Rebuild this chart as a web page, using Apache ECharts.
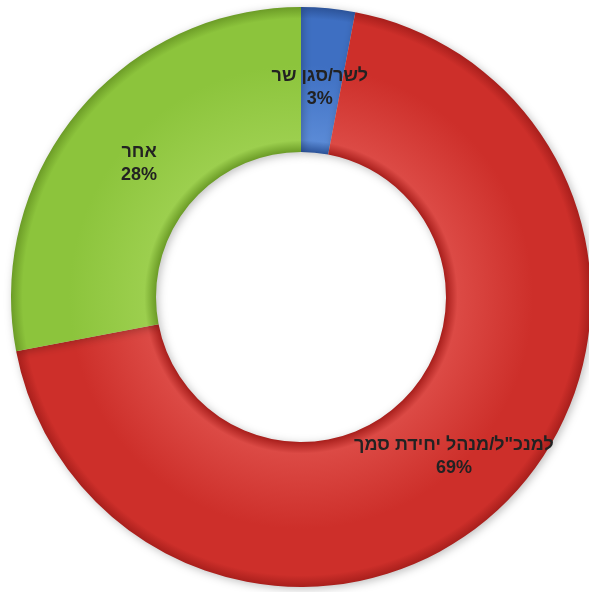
<!DOCTYPE html>
<html>
<head>
<meta charset="utf-8">
<script src="https://cdn.jsdelivr.net/npm/echarts@6/dist/echarts.min.js"></script>
<style>
  html, body { margin: 0; padding: 0; background: #ffffff; }
  #chart { width: 589px; height: 592px; }
</style>
</head>
<body>
<div id="chart"></div>
<script>
// Share of reports by recipient role (percent)
const categories = ['לשר/סגן שר', 'למנכ"ל/מנהל יחידת סמך', 'אחר'];
const shares = [3, 69, 28];
const baseColors = ['#3e6fc2', '#cd2f2a', '#8cc43c'];
const lightColors = ['#5a8ad6', '#dc4a45', '#9ccf4e'];
const darkColors = ['#2c5399', '#a81f1c', '#6c9c27'];
// Nudges for the in-ring labels
const labelOffsets = [[-2, 10], [-3, 4], [8, 7]];

const cx = 301, cy = 297, rOuter = 290, rInner = 145;

// Bevel-like shading across the ring thickness
function ringGradient(i) {
  const f = rInner / rOuter;
  return {
    type: 'radial', x: cx, y: cy, r: rOuter, global: true,
    colorStops: [
      { offset: 0, color: darkColors[i] },
      { offset: f, color: darkColors[i] },
      { offset: f + 0.04, color: lightColors[i] },
      { offset: 0.8, color: baseColors[i] },
      { offset: 0.96, color: baseColors[i] },
      { offset: 1, color: darkColors[i] }
    ]
  };
}

const chart = echarts.init(document.getElementById('chart'));
chart.setOption({
  animation: false,
  series: [{
    type: 'pie',
    center: [cx, cy],
    radius: [rInner, rOuter],
    startAngle: 90,
    clockwise: true,
    avoidLabelOverlap: false,
    itemStyle: {
      borderWidth: 0,
      shadowBlur: 8,
      shadowColor: 'rgba(0,0,0,0.25)',
      shadowOffsetX: 2,
      shadowOffsetY: 2
    },
    label: {
      show: true,
      position: 'inside',
      formatter: p => p.name + '\n' + p.value + '%',
      fontFamily: 'Liberation Sans, Arial, sans-serif',
      fontWeight: 'bold',
      fontSize: 18,
      lineHeight: 23,
      color: '#222222',
      align: 'center'
    },
    labelLine: { show: false },
    data: categories.map((name, i) => ({
      name: name,
      value: shares[i],
      itemStyle: { color: ringGradient(i) },
      label: { offset: labelOffsets[i] }
    }))
  }]
});
</script>
</body>
</html>
